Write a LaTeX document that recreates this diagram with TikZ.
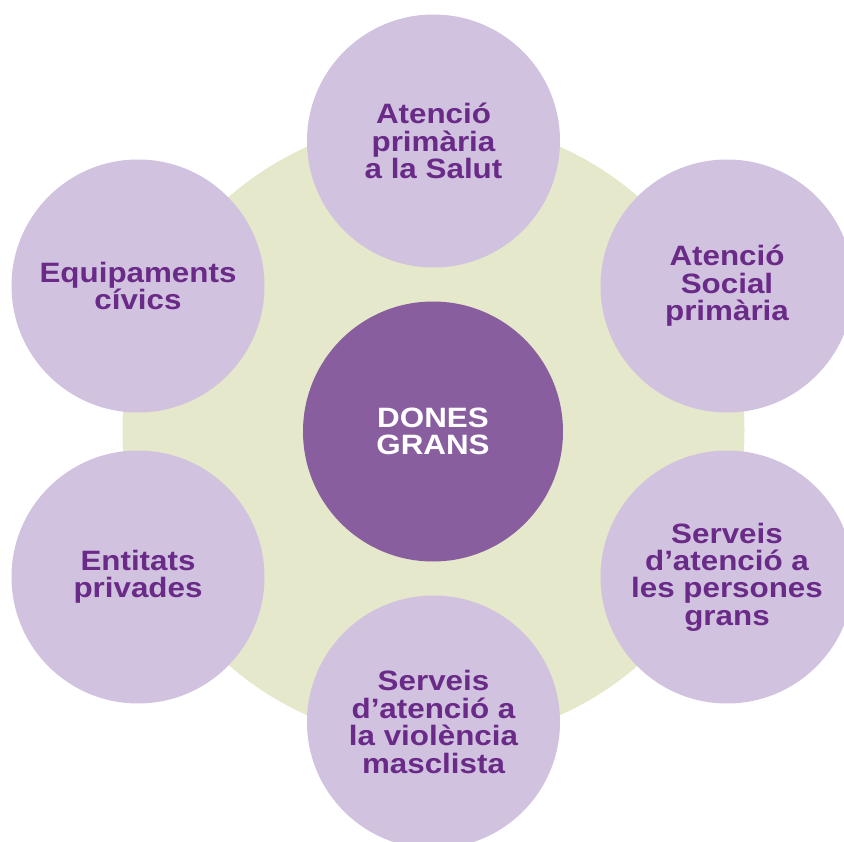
\documentclass[tikz,border=0pt]{standalone}
\usepackage{fontspec}
\newfontfamily\lblfont[FakeStretch=1.12]{Liberation Sans}
\definecolor{ringgreen}{HTML}{E5E8CB}
\definecolor{satfill}{HTML}{D1C2DF}
\definecolor{hubfill}{HTML}{885E9F}
\definecolor{labelpurple}{HTML}{6A2A87}
\tikzset{
  sat/.style={circle, fill=satfill, minimum size=253pt, inner sep=0pt, align=center,
    text=labelpurple, font=\lblfont\bfseries\fontsize{28}{27.4}\selectfont},
  hub/.style={circle, fill=hubfill, minimum size=260pt, inner sep=0pt, align=center,
    text=white, font=\lblfont\bfseries\fontsize{28}{26.5}\selectfont},
  ring/.style={circle, fill=ringgreen, minimum size=622pt, inner sep=0pt}
}
\begin{document}
\begin{tikzpicture}[x=1pt,y=-1pt]
\useasboundingbox (0,0) rectangle (844,842);
\clip (0,0) rectangle (844,842);
\node[ring] (ring) at (433.5,431) {};
\node[hub] (hub) at (433,431.5) {DONES\\GRANS};
\node[sat] (salut) at (433.5,141) {Atenció\\primària\\a la Salut};
\node[sat] (social) at (727,286) {Atenció\\Social\\primària};
\node[sat] (grans) at (727,577) {Serveis\\d’atenció a\\les persones\\grans};
\node[sat] (violencia) at (433.5,722) {Serveis\\d’atenció a\\la violència\\masclista};
\node[sat] (entitats) at (138,577) {Entitats\\privades};
\node[sat] (civics) at (138,286) {Equipaments\\cívics};
\end{tikzpicture}
\end{document}
